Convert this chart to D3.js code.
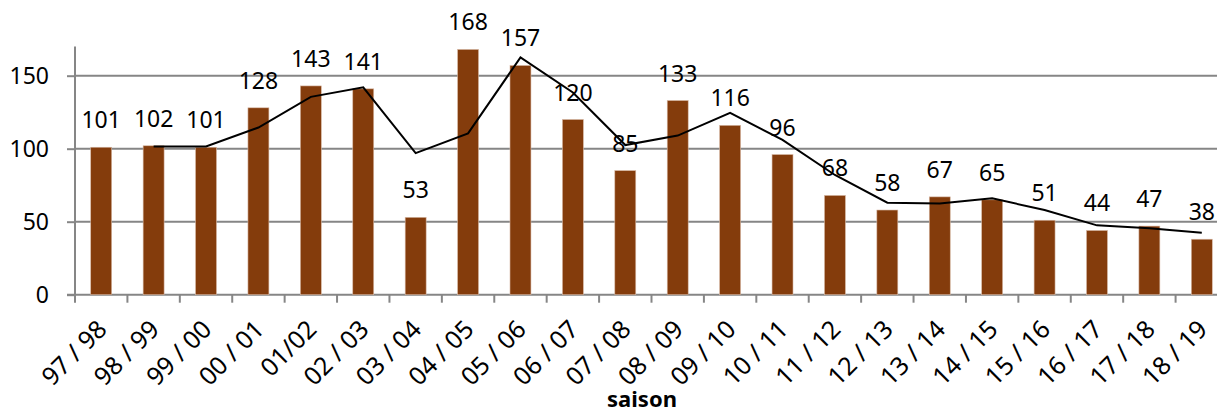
<!DOCTYPE html>
<html>
<head>
<meta charset="utf-8">
<script src="https://cdn.jsdelivr.net/npm/d3@7"></script>
<style>
  body { margin: 0; background: #fff; }
  svg text { font-family: "Noto Sans", "Open Sans", sans-serif; fill: #000; }
</style>
</head>
<body>
<div id="chart"></div>
<script>
// seasons on the x axis
const seasons = ["97 / 98", "98 / 99", "99 / 00", "00 / 01", "01/02", "02 / 03", "03 / 04",
    "04 / 05", "05 / 06", "06 / 07", "07 / 08", "08 / 09", "09 / 10", "10 / 11", "11 / 12",
    "12 / 13", "13 / 14", "14 / 15", "15 / 16", "16 / 17", "17 / 18", "18 / 19"];

// bar values (data labels)
const counts = [101, 102, 101, 128, 143, 141, 53, 168, 157, 120, 85, 133, 116, 96, 68,
    58, 67, 65, 51, 44, 47, 38];

// black trend line (no point for the first season)
const trend = [null, 101.5, 101.5, 114.5, 135.5, 142, 97, 110.5, 162.5, 138.5, 102.5, 109,
    124.5, 106, 82, 63, 62.5, 66, 58, 47.5, 45.5, 42.5];

const yTicks = [0, 50, 100, 150];

const W = 1217, H = 412;
const plot = { left: 75, right: 1228, top: 46.5, bottom: 294.7 };

const svg = d3.select("#chart").append("svg")
    .attr("width", W).attr("height", H);

const x = d3.scaleBand()
    .domain(seasons)
    .range([plot.left, plot.right])
    .paddingInner(0.6)
    .paddingOuter(0.3);

const y = d3.scaleLinear()
    .domain([0, 170])
    .range([plot.bottom, plot.top]);

const step = x.step();
const grey = "#868686";

// gridlines
svg.append("g")
    .selectAll("line")
    .data(yTicks.filter(d => d > 0))
    .join("line")
    .attr("x1", plot.left).attr("x2", plot.right)
    .attr("y1", d => y(d)).attr("y2", d => y(d))
    .attr("stroke", grey).attr("stroke-width", 2);

// y axis
const yAxis = svg.append("g")
    .attr("transform", `translate(${plot.left},0)`)
    .call(d3.axisLeft(y).tickValues(yTicks).tickSize(8).tickPadding(18));
yAxis.select(".domain").attr("stroke", grey).attr("stroke-width", 2)
    .attr("d", `M-8,${y(0)}H0V${plot.top}`);
yAxis.selectAll(".tick line").attr("stroke", grey).attr("stroke-width", 2);
yAxis.selectAll(".tick text").attr("font-size", 23)
    .attr("font-family", "Noto Sans").attr("fill", "#000");

// x axis line and tick marks at band boundaries
svg.append("line")
    .attr("x1", plot.left).attr("x2", plot.right)
    .attr("y1", y(0)).attr("y2", y(0))
    .attr("stroke", grey).attr("stroke-width", 2);

svg.append("g")
    .selectAll("line")
    .data(seasons)
    .join("line")
    .attr("x1", d => x(d) - step * 0.3).attr("x2", d => x(d) - step * 0.3)
    .attr("y1", y(0)).attr("y2", y(0) + 8)
    .attr("stroke", grey).attr("stroke-width", 2);

// bars
svg.append("g")
    .selectAll("rect")
    .data(counts)
    .join("rect")
    .attr("x", (d, i) => x(seasons[i]))
    .attr("width", x.bandwidth())
    .attr("y", d => y(d))
    .attr("height", d => y(0) - y(d))
    .attr("fill", "#843c0c")
    .attr("stroke", "#d8b9a6")
    .attr("stroke-width", 0.6);

// trend line
const line = d3.line()
    .defined(d => d != null)
    .x((d, i) => x(seasons[i]) + x.bandwidth() / 2)
    .y(d => y(d));

svg.append("path")
    .datum(trend)
    .attr("d", line)
    .attr("fill", "none")
    .attr("stroke", "#000")
    .attr("stroke-width", 2);

// data labels
svg.append("g")
    .selectAll("text")
    .data(counts)
    .join("text")
    .attr("x", (d, i) => x(seasons[i]) + x.bandwidth() / 2)
    .attr("y", d => y(d) - 19)
    .attr("text-anchor", "middle")
    .attr("font-size", 23)
    .text(d => d);

// x tick labels, rotated
svg.append("g")
    .selectAll("text")
    .data(seasons)
    .join("text")
    .attr("transform", d => `translate(${x(d) + x.bandwidth() / 2 + 1},${y(0) + 30}) rotate(-45)`)
    .attr("text-anchor", "end")
    .attr("dy", "0.35em")
    .attr("font-size", 25)
    .text(d => d);

// axis title
svg.append("text")
    .attr("x", 642)
    .attr("y", 407)
    .attr("text-anchor", "middle")
    .attr("font-size", 22)
    .attr("font-weight", "bold")
    .text("saison");
</script>
</body>
</html>
